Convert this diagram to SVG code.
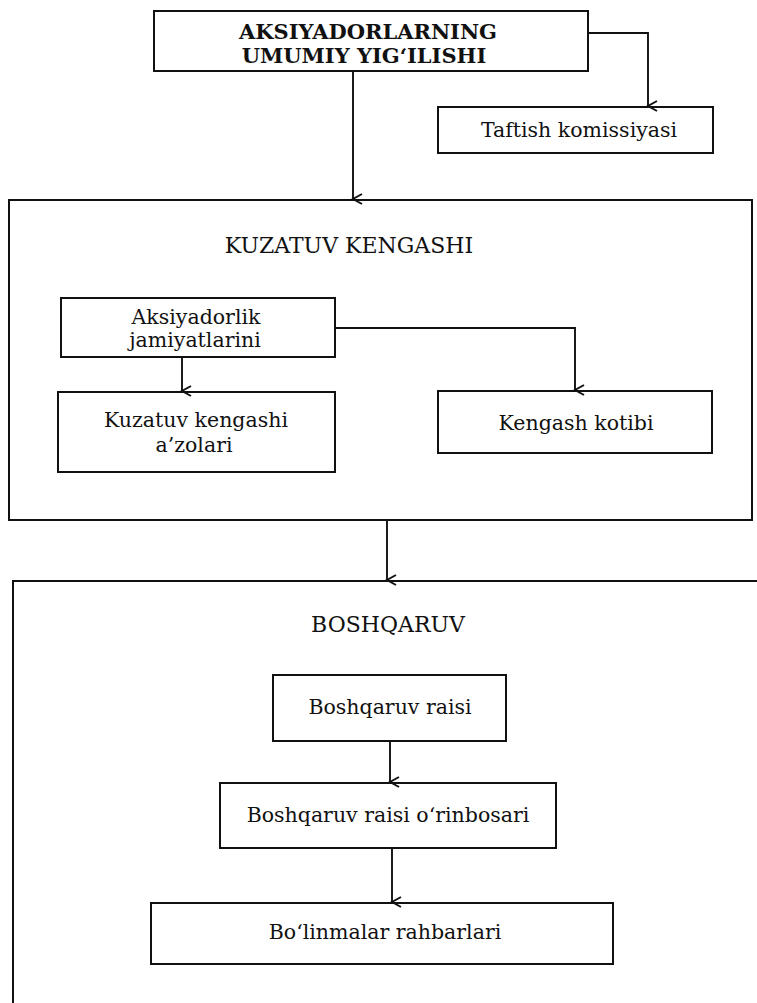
<svg xmlns="http://www.w3.org/2000/svg" width="757" height="1003" viewBox="0 0 757 1003">
<style>
rect{fill:none;stroke:#111;stroke-width:2}
.c{fill:none;stroke:#111;stroke-width:1.9}
text{font-family:"DejaVu Serif","Liberation Serif",serif;fill:#111;text-anchor:middle}
.b{font-weight:bold;font-size:21px}
.t{font-size:20.5px}
.h{font-size:22px}
</style>
<defs>
<marker id="ah" markerUnits="userSpaceOnUse" markerWidth="14" markerHeight="14" refX="7" refY="12" orient="auto-start-reverse" viewBox="0 0 14 14">
<path d="M2,3 L7,12 L12,3" fill="none" stroke="#111" stroke-width="2"/>
</marker>
</defs>
<rect x="0" y="0" width="757" height="1003" style="fill:#fff;stroke:none"/>
<g id="connectors">
<path class="c" d="M588,33 H648 V106" marker-end="url(#ah)"/>
<path class="c" d="M353,71 V199" marker-end="url(#ah)"/>
<path class="c" d="M182,357 V391" marker-end="url(#ah)"/>
<path class="c" d="M335,328 H575 V390" marker-end="url(#ah)"/>
<path class="c" d="M387,520 V580" marker-end="url(#ah)"/>
<path class="c" d="M390,741 V782" marker-end="url(#ah)"/>
<path class="c" d="M392,848 V902" marker-end="url(#ah)"/>
</g>
<g id="umumiy">
<rect x="154" y="11" width="434" height="60"/>
<text class="b" x="368" y="39">AKSIYADORLARNING</text>
<text class="b" x="364" y="63">UMUMIY YIG‘ILISHI</text>
</g>
<g id="taftish">
<rect x="438" y="107" width="275" height="46"/>
<text class="t" x="579" y="137">Taftish komissiyasi</text>
</g>
<g id="kuzatuv">
<rect x="9" y="200" width="743" height="320"/>
<text class="h" x="349" y="253">KUZATUV KENGASHI</text>
</g>
<g id="aksiyadorlik">
<rect x="61" y="298" width="274" height="59"/>
<text class="t" x="196" y="324">Aksiyadorlik</text>
<text class="t" x="195" y="347">jamiyatlarini</text>
</g>
<g id="azolari">
<rect x="58" y="392" width="277" height="80"/>
<text class="t" x="196" y="427">Kuzatuv kengashi</text>
<text class="t" x="194" y="452">a’zolari</text>
</g>
<g id="kotibi">
<rect x="438" y="391" width="274" height="62"/>
<text class="t" x="576" y="430">Kengash kotibi</text>
</g>
<g id="boshqaruv">
<rect x="13" y="581" width="800" height="500"/>
<text class="h" x="388" y="632">BOSHQARUV</text>
</g>
<g id="raisi">
<rect x="273" y="675" width="233" height="66"/>
<text class="t" x="390" y="714">Boshqaruv raisi</text>
</g>
<g id="orinbosari">
<rect x="220" y="783" width="336" height="65"/>
<text class="t" x="388" y="822">Boshqaruv raisi o‘rinbosari</text>
</g>
<g id="bolinmalar">
<rect x="151" y="903" width="462" height="61"/>
<text class="t" x="385" y="939">Bo‘linmalar rahbarlari</text>
</g>
</svg>
